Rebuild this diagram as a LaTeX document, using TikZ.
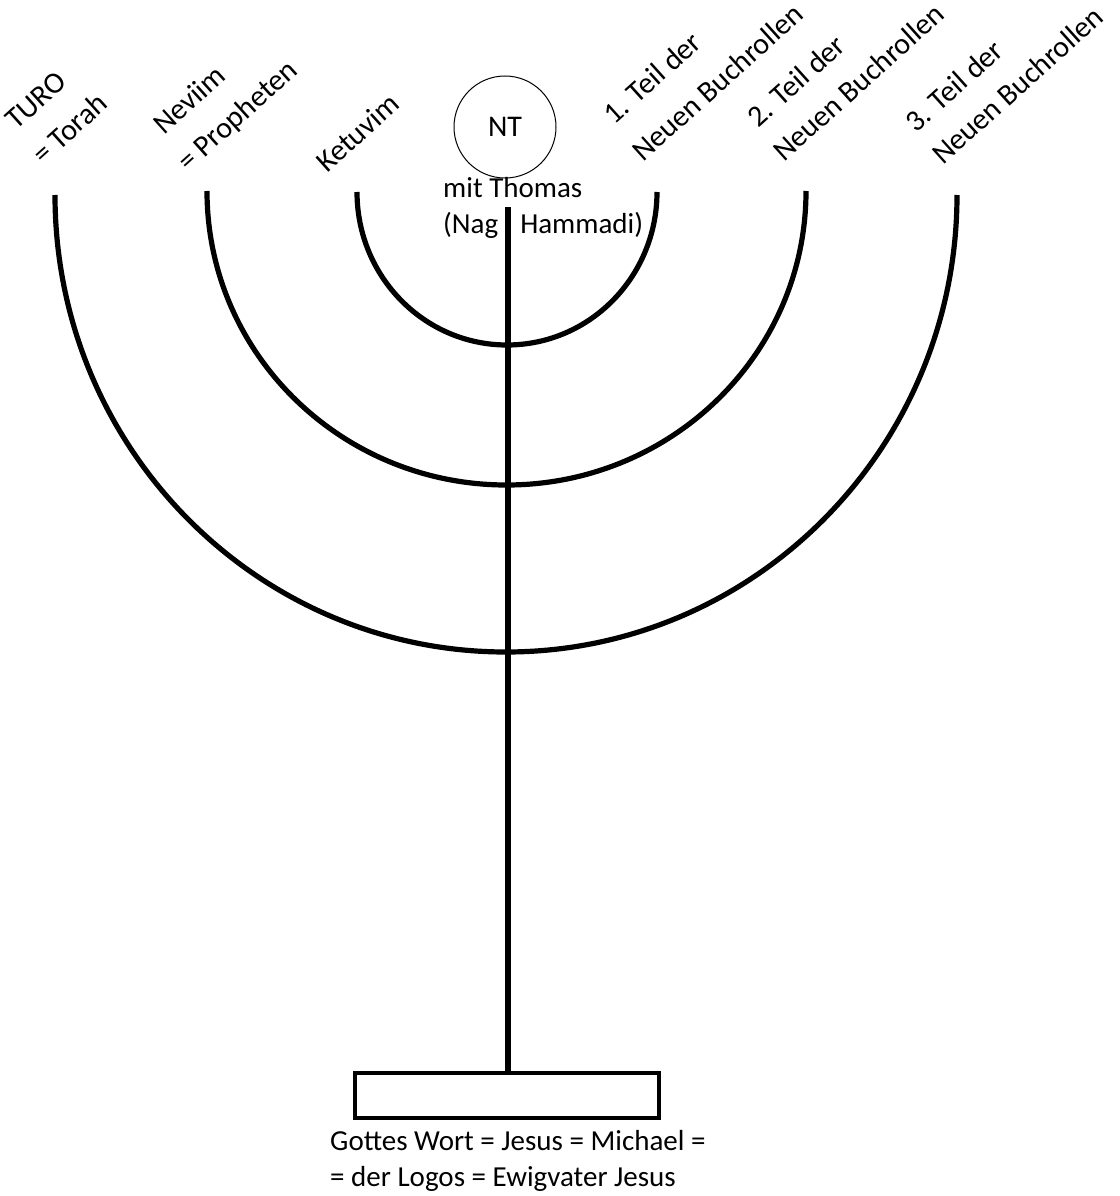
\documentclass[tikz,border=0pt]{standalone}
\usepackage{fontspec}
\setmainfont{Carlito}
\begin{document}
\begin{tikzpicture}[x=1pt,y=1pt,
  lbl/.style={anchor=base west,rotate=42,inner sep=0pt,font=\fontsize{30}{36}\selectfont},
  txt/.style={anchor=base west,inner sep=0pt,font=\fontsize{29}{36}\selectfont},
  branch/.style={line width=5.2pt},
  stemline/.style={line width=5.2pt},
  basebox/.style={draw,line width=3.3pt,minimum width=304pt,minimum height=45pt,inner sep=0pt},
  ntcircle/.style={draw,circle,line width=1pt,minimum size=102pt,inner sep=0pt,font=\fontsize{30}{36}\selectfont}]
\useasboundingbox (0,0) rectangle (1119,-1196);
% labels
\node[lbl] (turo1) at (16,-131) {TURO};
\node[lbl] (turo2) at (43,-166) {= Torah};
\node[lbl] (nev1) at (164,-136) {Neviim};
\node[lbl] (nev2) at (188,-173) {= Propheten};
\node[lbl] (ket) at (327,-174) {Ketuvim};
\node[lbl] (t1a) at (614,-126) {1. Teil der};
\node[lbl] (t1b) at (643,-163) {Neuen Buchrollen};
\node[lbl] (t2a) at (758,-129) {2. Teil der};
\node[lbl] (t2b) at (784,-163) {Neuen Buchrollen};
\node[lbl] (t3a) at (916,-134) {3. Teil der};
\node[lbl] (t3b) at (943,-166) {Neuen Buchrollen};
% NT circle
\node[ntcircle] (nt) at (505,-127) {NT};
\node[txt] (thomas1) at (443,-197) {mit Thomas};
\node[txt] (thomas2) at (443,-233) {(Nag\hspace{22pt}Hammadi)};
% branches
\draw[branch] (357,-192) arc[start angle=180,end angle=360,x radius=150,y radius=153];
\draw[branch] (207,-191) arc[start angle=180,end angle=360,x radius=299.5,y radius=294];
\draw[branch] (55,-195) arc[start angle=180,end angle=360,x radius=451,y radius=457];
% base and stem
\node[basebox] (base) at (507,-1095.5) {};
\coordinate (stemtop) at (508,-207);
\draw[stemline] (stemtop) -- (stemtop |- base.north);
\node[txt] (word1) at (330,-1150) {Gottes Wort = Jesus = Michael =};
\node[txt] (word2) at (330,-1186) {= der Logos = Ewigvater Jesus};
\end{tikzpicture}
\end{document}
